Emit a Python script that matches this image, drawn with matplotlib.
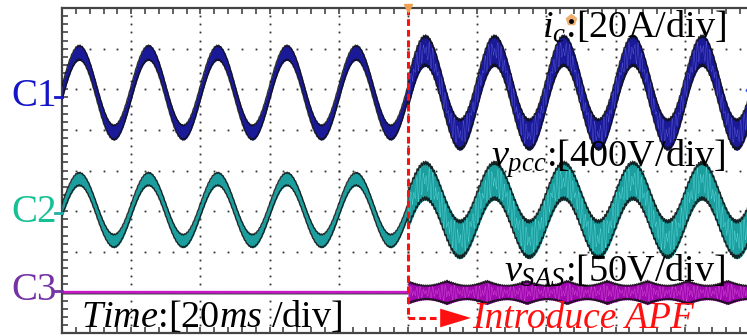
"""
Oscilloscope capture: compensating current, PCC voltage and SAS voltage
before and after the APF is switched in.  Output: out.png (747x336)
"""
import numpy as np
import matplotlib; matplotlib.use("Agg")
import matplotlib.pyplot as plt

plt.rcParams.update({
    "font.family":      "Liberation Serif",
    "mathtext.fontset": "custom",
    "mathtext.rm":      "Liberation Serif",
    "mathtext.it":      "Liberation Serif:italic",
})

# ── Readings off the screen (time in ms, amplitude in divisions)
N_XDIV, N_YDIV = 10, 8
MS_PER_DIV = 20.0
T_APF      = 100.0          # APF introduced at screen centre
F_LINE     = 50.0           # Hz, one period per division
CH_NAMES   = ["C1", "C2", "C3"]
CH_OFFSET  = [1.92, -0.97, -3.0]
AMP_BEFORE = [0.98, 0.76, 0.00]
AMP_AFTER  = [1.03, 0.72, 0.00]
HB_BEFORE  = [0.19, 0.17, 0.025]   # half width of ripple band
HB_AFTER   = [0.39, 0.48, 0.30]
SAS_ENV_PERIOD = 11.6              # ms, beating of v_SAS ripple
SAS_ENV_DEPTH  = 0.40
RIPPLE_PERIOD  = 0.9               # ms, switching ripple

SCALE_VAR = [r"$i_c$", r"$v_{pcc}$", r"$v_{SAS}$"]
SCALE_DIV = [":[20A/div]", ":[400V/div]", ":[50V/div]"]

FILL   = ["#1a1a98", "#1c9e9e", "#a008b0"]
STRIPE = ["#6a6ae8", "#6ae8e8", "#e060e0"]
LABEL  = ["#1414c8", "#14c094", "#7432a4"]
MARK   = ["#1414c8", "#1fb0a8", "#7432a4"]

W, H = 747, 336
fig = plt.figure(figsize=(W/100, H/100), dpi=100)
# screen area: left 62 px, top 8 px, 69.2 px/div wide, 40.6 px/div high
ax = fig.add_axes([62/W, 3/H, 692/W, 325/H])
ax.set_xlim(0, N_XDIV*MS_PER_DIV)
ax.set_ylim(-N_YDIV/2, N_YDIV/2)

# ── Graticule: dotted division lines and border ticks
xs_fine = np.arange(0, 200.01, 4)
ys_fine = np.arange(-4, 4.01, 0.2)
for xv in np.arange(20, 200, 20):
    ax.plot(np.full_like(ys_fine, xv), ys_fine, ls="none", marker="s",
            ms=1.3, mew=0, color="#333333", zorder=1)
for yv in np.arange(-3, 4, 1):
    ax.plot(xs_fine, np.full_like(xs_fine, yv), ls="none", marker="s",
            ms=1.3, mew=0, color="#333333", zorder=1)
ax.set_xticks(xs_fine)
ax.set_yticks(ys_fine)
ax.tick_params(direction="in", length=4, width=1.2, color="#444444",
               top=True, right=False, labelbottom=False, labelleft=False)
for s in ax.spines.values():
    s.set_color("#444444"); s.set_linewidth(1.6)
ax.spines["right"].set_visible(False)

# ── Waveforms
t = np.linspace(0, 200, 24001)
after = t >= T_APF
phase = np.sin(2*np.pi*F_LINE*t/1000.0)
tri = 2*np.abs(2*((t/RIPPLE_PERIOD) % 1.0) - 1) - 1
tri2 = 2*np.abs(2*((t/(RIPPLE_PERIOD*1.37)) % 1.0) - 1) - 1

for i, name in enumerate(CH_NAMES):
    amp = np.where(after, AMP_AFTER[i], AMP_BEFORE[i])
    hb = np.where(after, HB_AFTER[i], HB_BEFORE[i])
    if name == "C3":
        env = 1 - SAS_ENV_DEPTH*np.abs(np.cos(np.pi*(t - 1.0)/SAS_ENV_PERIOD))
        hb = np.where(after, HB_AFTER[i]*env, HB_BEFORE[i])
    base = CH_OFFSET[i] + amp*phase
    if name == "C3":
        pre = ~after
        ax.plot(t[pre], base[pre], color="#c818c8", lw=2.2, zorder=3)
        ax.plot(t[pre], base[pre] - 0.04, color="#222222", lw=0.6, zorder=3)
        m = after
    else:
        m = np.ones_like(t, dtype=bool)
    ax.fill_between(t[m], base[m] - hb[m], base[m] + hb[m], color=FILL[i],
                    lw=0, zorder=3)
    rip = base + hb*(0.55*tri + 0.45*tri2)
    ax.plot(t[m & after], rip[m & after], color=STRIPE[i], lw=0.35,
            alpha=0.7, zorder=4)
    edge = 0.18*hb*tri2
    ax.plot(t[m], base[m] + hb[m] - np.abs(edge[m]), color="#101010",
            lw=1.0, alpha=0.85, zorder=5)
    ax.plot(t[m], base[m] - hb[m] + np.abs(edge[m]), color="#101010",
            lw=1.0, alpha=0.85, zorder=5)

# ── APF switching marker
y_arrow = -3.63
ax.plot([T_APF, T_APF], [4, y_arrow], color="#ff1010", lw=2.2,
        ls=(0, (2.2, 1.3)), zorder=6, clip_on=False)
ax.plot([T_APF, 109.3], [y_arrow, y_arrow], color="#ff1010", lw=2.2,
        ls=(0, (2.2, 1.3)), zorder=6)
ax.fill([109.3, 109.3, 118.2], [y_arrow + 0.23, y_arrow - 0.23, y_arrow],
        color="#ff1010", lw=0, zorder=6)
ax.plot([T_APF], [4], marker="v", ms=6, color="#f0a050", mec="#f0a050",
        clip_on=False, zorder=7)
ax.plot([198.5], [CH_OFFSET[0] + 0.05], marker="D", ms=3.5, color="#3050ff",
        clip_on=False, zorder=7)

# ── Overlay in pixel coordinates for labels
ov = fig.add_axes([0, 0, 1, 1], facecolor="none")
ov.set_xlim(0, W); ov.set_ylim(H, 0); ov.axis("off")

label_y = [97, 213, 291]
for i, name in enumerate(CH_NAMES):
    ov.text(11, label_y[i], name, color=LABEL[i], fontsize=28,
            ha="left", va="center")
    ov.plot([55, 62], [label_y[i], label_y[i]], color=MARK[i], lw=2)

scale_base = [38, 167, 282]
for i in range(3):
    ov.text(726, scale_base[i], SCALE_VAR[i] + SCALE_DIV[i], fontsize=27.5,
            ha="right", va="baseline", color="black", zorder=8)
ov.plot([571], [20], marker="p", ms=8, color="#f0b070", zorder=9)
ov.plot([571], [21], marker="o", ms=2.5, color="black", zorder=10)

ov.text(81, 327, r"$Time$:[20$ms$ /div]", fontsize=27.5, ha="left",
        va="baseline", color="black")
ov.text(472, 328, "Introduce APF", fontsize=27, style="italic",
        ha="left", va="baseline", color="#ff1010")

fig.savefig("out.png", dpi=100)
